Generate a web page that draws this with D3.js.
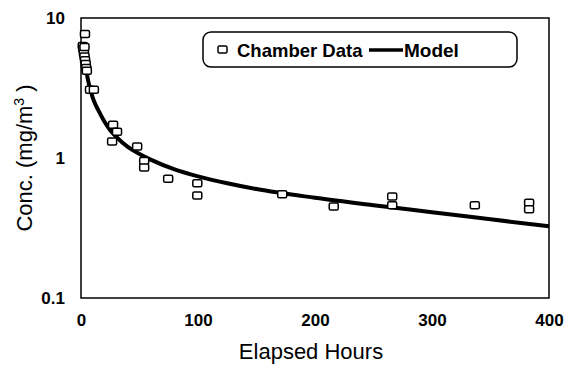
<!DOCTYPE html>
<html>
<head>
<meta charset="utf-8">
<script src="https://cdn.jsdelivr.net/npm/d3@7"></script>
<style>
  body { margin: 0; background: #fff; }
  svg { font-family: "Liberation Sans", Arial, sans-serif; }
</style>
</head>
<body>
<svg id="chart" width="566" height="369"></svg>
<script>
// chamber measurements
const dataHours = [1.5, 2, 2.5, 3, 3, 3.4, 3.5, 4, 4.5, 5, 7.7, 11, 26.6, 27.4, 30.8, 48, 54, 54, 74.5, 99.4, 99.4, 172, 216, 266, 266, 336.6, 383, 383];
const dataConc  = [6.3, 6.0, 5.6, 6.2, 5.3, 7.7, 5.0, 4.7, 4.4, 4.2, 3.07, 3.07, 1.31, 1.73, 1.54, 1.21, 0.95, 0.855, 0.71, 0.66, 0.54, 0.55, 0.45, 0.53, 0.46, 0.46, 0.48, 0.43];

// model curve
const modelHours = [1, 2, 3, 4, 5, 6, 8, 10, 13, 16, 20, 25, 30, 40, 50, 60, 80, 100, 125, 150, 200, 250, 300, 350, 400];
const modelConc  = [6.6, 6.0, 5.2, 4.5, 4.0, 3.6, 3.1, 2.7, 2.35, 2.1, 1.82, 1.58, 1.42, 1.2, 1.07, 0.97, 0.83, 0.74, 0.66, 0.6, 0.52, 0.46, 0.41, 0.365, 0.325];

const xTicks = [0, 100, 200, 300, 400];
const yTicks = [0.1, 1, 10];

const svg = d3.select("#chart");
const pLeft = 81, pRight = 549, pTop = 18, pBottom = 298;

const x = d3.scaleLinear().domain([0, 400]).range([pLeft, pRight]);
const y = d3.scaleLog().domain([0.1, 10]).range([pBottom, pTop]);

// axes, labels only
const xAxis = svg.append("g")
  .attr("transform", "translate(0," + pBottom + ")")
  .call(d3.axisBottom(x).tickValues(xTicks).tickSize(0).tickPadding(16).tickFormat(d3.format("d")));
const yAxis = svg.append("g")
  .attr("transform", "translate(" + pLeft + ",0)")
  .call(d3.axisLeft(y).tickValues(yTicks).tickSize(0).tickPadding(16).tickFormat(d => d < 1 ? "0.1" : d3.format("d")(d)));
[xAxis, yAxis].forEach(a => {
  a.select(".domain").remove();
  a.selectAll("text").attr("font-size", 17).attr("font-weight", "bold")
    .attr("font-family", "'Liberation Sans', Arial, sans-serif").attr("fill", "#000");
});

// frame
svg.append("rect")
  .attr("x", pLeft).attr("y", pTop)
  .attr("width", pRight - pLeft).attr("height", pBottom - pTop)
  .attr("fill", "none").attr("stroke", "#000").attr("stroke-width", 1.5);

// model line
const line = d3.line()
  .x((d, i) => x(modelHours[i]))
  .y((d, i) => y(modelConc[i]))
  .curve(d3.curveMonotoneX);
svg.append("path")
  .datum(modelHours)
  .attr("d", line)
  .attr("fill", "none")
  .attr("stroke", "#000")
  .attr("stroke-width", 4);

// data squares
svg.append("g").selectAll("rect")
  .data(dataHours)
  .enter()
  .append("rect")
  .attr("x", (d, i) => x(d) - 4.5)
  .attr("y", (d, i) => y(dataConc[i]) - 3.5)
  .attr("width", 9).attr("height", 7)
  .attr("rx", 1.5)
  .attr("fill", "#fff").attr("stroke", "#000").attr("stroke-width", 1.5);

// legend
const lg = svg.append("g");
lg.append("rect")
  .attr("x", 203).attr("y", 32).attr("width", 314).attr("height", 35)
  .attr("rx", 8).attr("fill", "#fff").attr("stroke", "#000").attr("stroke-width", 1.5);
lg.append("rect")
  .attr("x", 218).attr("y", 46).attr("width", 9).attr("height", 7).attr("rx", 1.5)
  .attr("fill", "#fff").attr("stroke", "#000").attr("stroke-width", 1.5);
lg.append("text").attr("x", 237).attr("y", 57)
  .attr("font-size", 18.5).attr("font-weight", "bold").text("Chamber Data");
lg.append("line").attr("x1", 369).attr("x2", 403).attr("y1", 50).attr("y2", 50)
  .attr("stroke", "#000").attr("stroke-width", 3.5);
lg.append("text").attr("x", 404).attr("y", 57)
  .attr("font-size", 19).attr("font-weight", "bold").text("Model");

// axis titles
svg.append("text")
  .attr("x", 311).attr("y", 359)
  .attr("text-anchor", "middle").attr("font-size", 22).text("Elapsed Hours");
const yt = svg.append("text")
  .attr("transform", "translate(32,158) rotate(-90)")
  .attr("text-anchor", "middle").attr("font-size", 22);
yt.append("tspan").text("Conc. (mg/m");
yt.append("tspan").attr("font-size", 14).attr("dy", -8).text("3");
yt.append("tspan").attr("dy", 8).text(" )");
</script>
</body>
</html>
